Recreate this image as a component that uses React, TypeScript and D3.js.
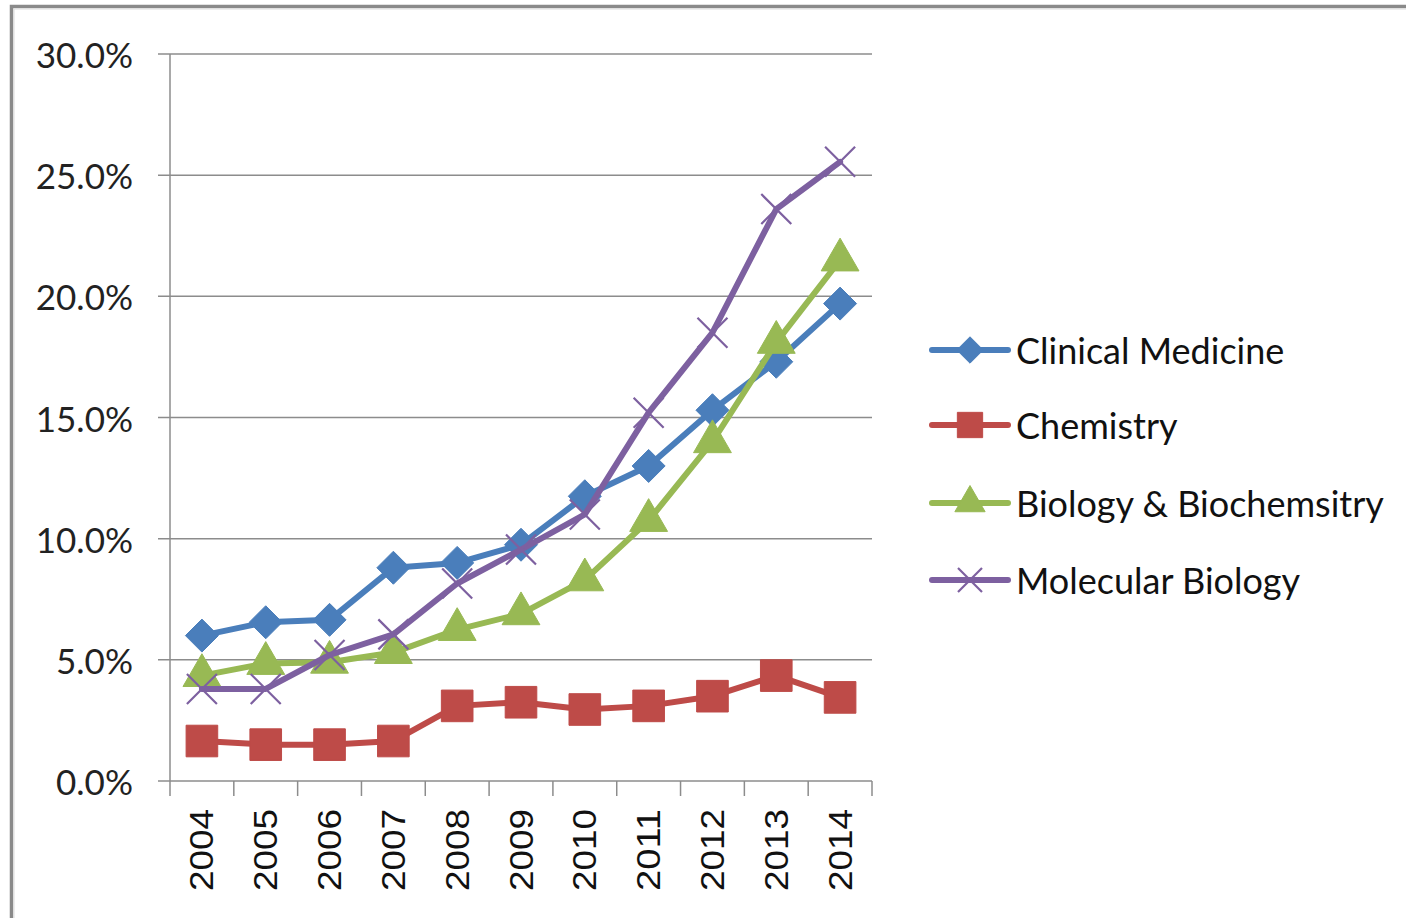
import React from 'react';
import { scaleBand, scaleLinear, line, symbol, symbolSquare, symbolTriangle } from 'd3';

const years = ['2004', '2005', '2006', '2007', '2008', '2009', '2010', '2011', '2012', '2013', '2014'];
const yTicks = [0, 5, 10, 15, 20, 25, 30];

const clinicalMedicine = [6.0, 6.55, 6.65, 8.8, 9.0, 9.75, 11.75, 13.0, 15.3, 17.3, 19.7];
const chemistry = [1.65, 1.5, 1.5, 1.65, 3.1, 3.25, 2.95, 3.1, 3.5, 4.35, 3.45];
const biologyBiochem = [4.35, 4.85, 4.9, 5.3, 6.25, 6.9, 8.3, 10.75, 14.0, 18.1, 21.5];
const molecularBiology = [3.8, 3.8, 5.2, 6.05, 8.15, 9.55, 11.0, 15.2, 18.5, 23.6, 25.55];

const seriesNames = ['Clinical Medicine', 'Chemistry', 'Biology & Biochemsitry', 'Molecular Biology'];
const seriesColors = ['#4A7EBB', '#BE4B48', '#98B954', '#7D60A0'];
const seriesMarkers = ['diamond', 'square', 'triangle', 'x'];
const seriesValues = [clinicalMedicine, chemistry, biologyBiochem, molecularBiology];

const W = 1406;
const H = 918;
const plot = { left: 170, right: 872, top: 54, bottom: 781 };

const x = scaleBand<string>().domain(years).range([plot.left, plot.right]);
const y = scaleLinear().domain([0, 30]).range([plot.bottom, plot.top]);

const Marker = ({ kind, cx, cy, color, big }: { kind: string; cx: number; cy: number; color: string; big: boolean }) => {
  const k = big ? 1 : 0.8;
  if (kind === 'x') {
    const r = 15 * k;
    return (
      <path
        d={`M${cx - r},${cy - r}L${cx + r},${cy + r}M${cx - r},${cy + r}L${cx + r},${cy - r}`}
        stroke={color}
        strokeWidth={2.2}
        fill="none"
      />
    );
  }
  if (kind === 'diamond') {
    const r = 16.5 * k;
    return (
      <path
        d={`M${cx},${cy - r}L${cx + r},${cy}L${cx},${cy + r}L${cx - r},${cy}Z`}
        fill={color}
        stroke={color}
        strokeWidth={1}
        strokeLinejoin="round"
      />
    );
  }
  const shape = kind === 'square' ? symbolSquare : symbolTriangle;
  const size = kind === 'square' ? 1000 : 620;
  const path = symbol(shape, size * k * k)();
  return <path d={path || ''} transform={`translate(${cx},${cy})`} fill={color} stroke={color} strokeWidth={1} />;
};

export default function App() {
  const lineGen = line<number>()
    .x((_, i) => (x(years[i]) as number) + x.bandwidth() / 2)
    .y((d) => y(d));

  const legendY = [350, 425, 503, 580];

  return (
    <svg
      width={W}
      height={H}
      style={{ position: 'absolute', left: 0, top: 0, background: '#fff' }}
      fontFamily="Lato, 'Open Sans', sans-serif"
    >
      {/* frame */}
      <rect x={11.5} y={6.5} width={W + 20} height={H + 20} fill="none" stroke="#8a8a8a" strokeWidth={3.5} />
      <rect x={14} y={9} width={W + 20} height={H + 20} fill="none" stroke="#dcdcdc" strokeWidth={1} />

      {/* gridlines and y ticks */}
      {yTicks.map((t) => (
        <g key={t}>
          <line x1={plot.left - 12} x2={plot.right} y1={y(t)} y2={y(t)} stroke="#8c8c8c" strokeWidth={1.5} />
          <text x={133} y={y(t)} textAnchor="end" dominantBaseline="central" fontSize={35} fill="#222">
            {t.toFixed(1)}%
          </text>
        </g>
      ))}

      {/* y axis */}
      <line x1={plot.left} x2={plot.left} y1={plot.top} y2={plot.bottom} stroke="#8c8c8c" strokeWidth={1.5} />

      {/* x ticks */}
      {years.map((yr) => (
        <line
          key={'t' + yr}
          x1={x(yr) as number}
          x2={x(yr) as number}
          y1={plot.bottom}
          y2={plot.bottom + 15}
          stroke="#8c8c8c"
          strokeWidth={1.5}
        />
      ))}
      <line x1={plot.right} x2={plot.right} y1={plot.bottom} y2={plot.bottom + 15} stroke="#8c8c8c" strokeWidth={1.5} />

      {years.map((yr) => {
        const cx = (x(yr) as number) + x.bandwidth() / 2;
        return (
          <text
            key={'l' + yr}
            transform={`translate(${cx},${809}) rotate(-90)`}
            textAnchor="end"
            dominantBaseline="central"
            fontFamily="'Liberation Sans', Arial, sans-serif"
            fontSize={33}
            textLength={82}
            lengthAdjust="spacingAndGlyphs"
            fill="#111"
          >
            {yr}
          </text>
        );
      })}

      {/* series */}
      {seriesValues.map((vals, si) => (
        <g key={seriesNames[si]}>
          <path d={lineGen(vals) || ''} fill="none" stroke={seriesColors[si]} strokeWidth={6} strokeLinejoin="round" strokeLinecap="round" />
          {vals.map((v, i) => (
            <Marker
              key={i}
              kind={seriesMarkers[si]}
              cx={(x(years[i]) as number) + x.bandwidth() / 2}
              cy={y(v)}
              color={seriesColors[si]}
              big
            />
          ))}
        </g>
      ))}

      {/* legend */}
      {seriesNames.map((name, si) => (
        <g key={'lg' + name}>
          <line x1={932} x2={1008} y1={legendY[si]} y2={legendY[si]} stroke={seriesColors[si]} strokeWidth={6} strokeLinecap="round" />
          <Marker kind={seriesMarkers[si]} cx={970} cy={legendY[si]} color={seriesColors[si]} big={false} />
          <text x={1016} y={legendY[si]} dominantBaseline="central" fontSize={36} fill="#111">
            {name}
          </text>
        </g>
      ))}
    </svg>
  );
}
